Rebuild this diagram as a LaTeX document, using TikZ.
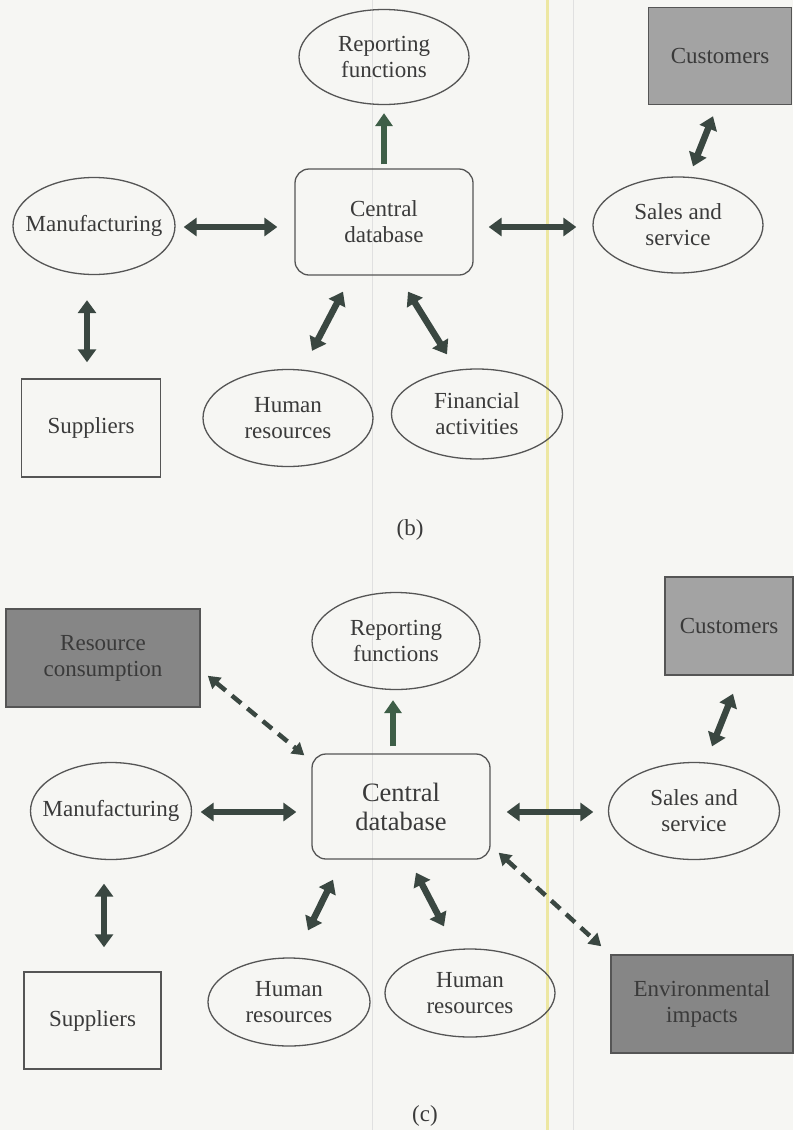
\documentclass[tikz,border=0pt]{standalone}
\usepackage{fontspec}
\setmainfont{Liberation Serif}
\usetikzlibrary{shapes.geometric,arrows.meta,calc}

\definecolor{paper}{HTML}{F6F6F3}
\definecolor{ink}{HTML}{3A3A3A}
\definecolor{edge}{HTML}{555555}
\definecolor{arrowdark}{HTML}{3A4741}
\definecolor{arrowgreen}{HTML}{3E5E47}
\definecolor{lightbox}{HTML}{A3A3A3}
\definecolor{darkbox}{HTML}{868686}
\definecolor{scanyellow}{HTML}{EDE7A2}
\definecolor{scangrey}{HTML}{E0E0E0}

\begin{document}
\begin{tikzpicture}[x=1pt,y=-1pt,
  every node/.style={font=\fontsize{23}{26}\selectfont, text=ink, align=center, inner sep=0pt},
  oval/.style={ellipse, draw=edge, line width=1.3pt, inner xsep=-15pt, inner ysep=0pt},
  dbbox/.style={rectangle, rounded corners=14pt, draw=edge, line width=1.3pt},
  plainbox/.style={rectangle, draw=edge, line width=1.5pt},
  greybox/.style={rectangle, draw=edge, line width=1.5pt, fill=lightbox},
  darkgreybox/.style={rectangle, draw=edge, line width=1.5pt, fill=darkbox},
  link/.style={line width=6.5pt, draw=arrowdark,
    {Triangle[length=13pt,width=18pt]}-{Triangle[length=13pt,width=18pt]}},
  uplink/.style={line width=6pt, draw=arrowgreen, -{Triangle[length=13pt,width=17pt]}},
  flow/.style={line width=4.5pt, draw=arrowdark, dash pattern=on 12pt off 8pt,
    {Triangle[length=12pt,width=14pt]}-{Triangle[length=12pt,width=14pt]}}
]
% page
\fill[paper] (0,0) rectangle (793,1130);
\useasboundingbox (0,0) rectangle (793,1130);
\draw[scangrey, line width=1pt] (372,0) -- (372,1130);
\draw[scangrey, line width=1pt] (573,0) -- (573,1130);
\draw[scanyellow, line width=3pt] (547,0) -- (547,1130);

% ---------- panel (b) ----------
\node[oval, minimum width=170pt, minimum height=95pt] (rep) at (384,57) {Reporting\\functions};
\node[dbbox, minimum width=178pt, minimum height=106pt] (cdb) at (384,222) {Central\\database};
\node[greybox, minimum width=143pt, minimum height=97pt] (cust) at (720,56) {Customers};
\node[oval, minimum width=170pt, minimum height=96pt] (sales) at (678,225) {Sales and\\service};
\node[oval, minimum width=162pt, minimum height=97pt] (manuf) at (94,226) {Manufacturing};
\node[plainbox, minimum width=139pt, minimum height=98pt] (sup) at (91,428) {Suppliers};
\node[oval, minimum width=170pt, minimum height=97pt] (hr) at (288,418) {Human\\resources};
\node[oval, minimum width=171pt, minimum height=90pt] (fin) at (477,414) {Financial\\activities};
\node (capb) at (410,530) {(b)};

\draw[uplink] ($(cdb.north)+(0,-4)$) -- ($(rep.south)+(0,8)$);
\draw[link] ($(manuf.east)+(8,1)$) -- ($(cdb.west)+(-17,5)$);
\draw[link] ($(cdb.east)+(15,5)$) -- ($(sales.west)+(-16,2)$);
\draw[link] ($(sales.north)+(15,-10)$) -- ($(cust.south)+(-7,11)$);
\draw[link] ($(manuf.south)+(-7,25)$) -- ($(sup.north)+(-4,-16)$);
\draw[link] ($(cdb.south)+(-41,16)$) -- ($(hr.north)+(24,-18)$);
\draw[link] ($(cdb.south)+(24,16)$) -- ($(fin.north)+(-30,-14)$);

% ---------- panel (c) ----------
\node[darkgreybox, minimum width=194pt, minimum height=98pt] (res) at (103,658) {Resource\\consumption};
\node[oval, minimum width=168pt, minimum height=97pt] (rep2) at (396,641) {Reporting\\functions};
\node[greybox, minimum width=128pt, minimum height=98pt] (cust2) at (729,626) {Customers};
\node[dbbox, minimum width=178pt, minimum height=105pt, font=\fontsize{26.5}{29}\selectfont] (cdb2) at (401,806.5) {Central\\database};
\node[oval, minimum width=161pt, minimum height=97pt] (manuf2) at (111,811) {Manufacturing};
\node[oval, minimum width=171pt, minimum height=97pt] (sales2) at (694,811) {Sales and\\service};
\node[plainbox, minimum width=137pt, minimum height=97pt] (sup2) at (92.5,1020.5) {Suppliers};
\node[oval, minimum width=162pt, minimum height=88pt] (hr1) at (289,1002) {Human\\resources};
\node[oval, minimum width=170pt, minimum height=88pt] (hr2) at (470,993) {Human\\resources};
\node[darkgreybox, minimum width=182pt, minimum height=98pt] (env) at (702,1004) {Environmental\\impacts};
\node (capc) at (425,1116) {(c)};

\draw[uplink] ($(cdb2.north)+(-8,-7)$) -- ($(rep2.south)+(-3,10)$);
\draw[flow] ($(res.south east)+(7,-32)$) -- ($(cdb2.north west)+(-7,2)$);
\draw[link] ($(manuf2.east)+(8.5,1)$) -- ($(cdb2.west)+(-15,5.5)$);
\draw[link] ($(cdb2.east)+(16,5.5)$) -- ($(sales2.west)+(-14.5,1)$);
\draw[link] ($(sales2.north)+(18,-15.5)$) -- ($(cust2.south)+(4,18)$);
\draw[link] ($(manuf2.south)+(-7,23.5)$) -- ($(sup2.north)+(11.5,-24)$);
\draw[link] ($(cdb2.south)+(-68,20)$) -- ($(hr1.north)+(19,-27)$);
\draw[link] ($(cdb2.south)+(15,13)$) -- ($(hr2.north)+(-26,-22)$);
\draw[flow] ($(cdb2.south east)+(8,-7)$) -- ($(env.north west)+(-9,-8)$);
\end{tikzpicture}
\end{document}
